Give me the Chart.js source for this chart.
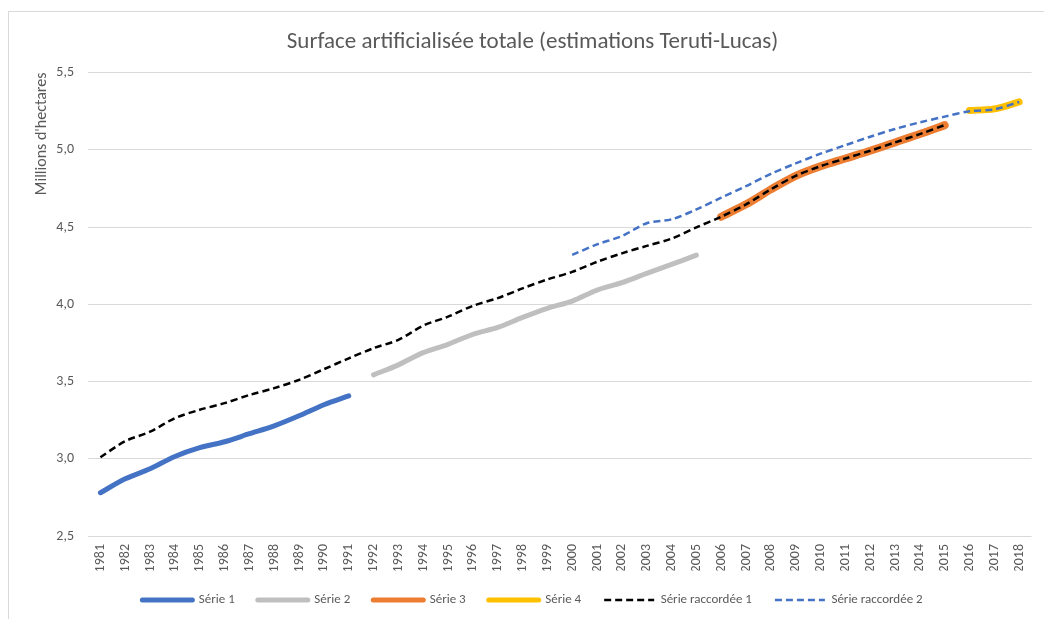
<!DOCTYPE html>
<html lang="fr">
<head>
<meta charset="utf-8">
<title>Surface artificialisée totale</title>
<script src="https://cdn.jsdelivr.net/npm/chart.js@4"></script>
<style>
  body { margin: 0; background: #fff; }
  canvas { display: block; }
</style>
</head>
<body>
<canvas id="grafico" width="1044" height="619"></canvas>
<script>
// années (axe des x)
const annees = [];
for (let a = 1981; a <= 2018; a++) annees.push(String(a));

// valeurs (millions d'hectares)
const serie1 = [2.78, 2.87, 2.935, 3.015, 3.072, 3.11, 3.162, 3.213, 3.278, 3.35, 3.407]; // 1981-1991
const serie2 = [3.543, 3.608, 3.687, 3.741, 3.806, 3.85, 3.915, 3.974, 4.021, 4.092, 4.14, 4.2, 4.258, 4.318]; // 1992-2005
const serie3 = [4.567, 4.647, 4.744, 4.832, 4.894, 4.944, 4.994, 5.048, 5.102, 5.16]; // 2006-2015
const serie4 = [5.255, 5.265, 5.31]; // 2016-2018
const raccordee1 = [3.01, 3.114, 3.175, 3.263, 3.317, 3.36, 3.413, 3.457, 3.511, 3.58, 3.65,
  3.716, 3.77, 3.862, 3.92, 3.99, 4.04, 4.103, 4.161, 4.21, 4.275, 4.33, 4.378, 4.425, 4.498,
  4.567, 4.647, 4.744, 4.832, 4.894, 4.944, 4.994, 5.048, 5.102, 5.16]; // 1981-2015
const raccordee2 = [4.32, 4.388, 4.442, 4.525, 4.55, 4.614, 4.69, 4.765, 4.845, 4.912, 4.975,
  5.03, 5.085, 5.135, 5.178, 5.215, 5.25, 5.262, 5.31]; // 2000-2018

const yMin = 2.5, yMax = 5.5, yPas = 0.5;

// place une série sur l'axe complet (null hors de sa période)
const placer = (debut, valeurs) =>
  annees.map(a => {
    const i = Number(a) - debut;
    return i >= 0 && i < valeurs.length ? valeurs[i] : null;
  });

const gris = "#595959";
const police = "Carlito, Lato, sans-serif";

const cadre = {
  id: "cadre",
  beforeDraw(chart) {
    const ctx = chart.ctx;
    ctx.save();
    ctx.fillStyle = "#fff";
    ctx.fillRect(0, 0, chart.width, chart.height);
    ctx.strokeStyle = "#d9d9d9";
    ctx.lineWidth = 1;
    ctx.strokeRect(8.5, 11.5, 1100, 700);
    ctx.restore();
  },
};

const ligne = (label, data, couleur, largeur, ordre, tirets) => ({
  label,
  data,
  borderColor: couleur,
  backgroundColor: couleur,
  borderWidth: largeur,
  borderDash: tirets || [],
  borderCapStyle: tirets ? "butt" : "round",
  borderJoinStyle: "round",
  pointRadius: 0,
  pointHoverRadius: 0,
  tension: 0.3,
  fill: false,
  spanGaps: false,
  order: ordre,
});

const ctx = document.getElementById("grafico").getContext("2d");

const chart = new Chart(ctx, {
  type: "line",
  data: {
    labels: annees,
    datasets: [
      ligne("Série 1", placer(1981, serie1), "#4472c4", 5, 1),
      ligne("Série 2", placer(1992, serie2), "#bfbfbf", 5, 1),
      ligne("Série 3", placer(2006, serie3), "#ed7d31", 8, 1),
      ligne("Série 4", placer(2016, serie4), "#ffc000", 7, 1),
      ligne("Série raccordée 1", placer(1981, raccordee1), "#000000", 2.5, 0, [7, 4]),
      ligne("Série raccordée 2", placer(2000, raccordee2), "#4472c4", 2.5, 0, [7, 4]),
    ],
  },
  options: {
    responsive: false,
    animation: false,
    events: [],
    layout: { padding: { top: 20, left: 22, right: 1, bottom: 2.5 } },
    plugins: {
      title: {
        display: true,
        text: "Surface artificialisée totale (estimations Teruti-Lucas)",
        color: gris,
        font: { family: police, size: 23, weight: "normal", lineHeight: 1.2 },
        padding: { top: 8, bottom: 17 },
      },
      legend: {
        display: true,
        position: "bottom",
        labels: {
          usePointStyle: true,
          pointStyle: "line",
          pointStyleWidth: 50,
          padding: 23,
          color: gris,
          font: { family: police, size: 13 },
          sort: (a, b) => a.datasetIndex - b.datasetIndex,
          generateLabels: (c) =>
            Chart.defaults.plugins.legend.labels.generateLabels(c).map(l => {
              const ds = c.data.datasets[l.datasetIndex];
              return {
                ...l,
                lineWidth: Math.min(ds.borderWidth, 5),
                lineDash: ds.borderDash,
                lineCap: ds.borderCapStyle,
                strokeStyle: ds.borderColor,
              };
            }),
        },
      },
      tooltip: { enabled: false },
    },
    scales: {
      x: {
        offset: true,
        grid: { display: false, drawTicks: false },
        border: { display: false },
        ticks: {
          color: gris,
          font: { family: police, size: 14 },
          minRotation: 90,
          maxRotation: 90,
          autoSkip: false,
          padding: 8,
        },
        afterFit: (s) => { s.height = 34.5; },
      },
      y: {
        min: yMin,
        max: yMax,
        grid: { color: "#d9d9d9", lineWidth: 1, drawTicks: false },
        border: { display: false },
        ticks: {
          stepSize: yPas,
          color: gris,
          font: { family: police, size: 14 },
          padding: 14,
          callback: (v) => v.toFixed(1).replace(".", ","),
        },
        title: {
          display: true,
          text: "Millions d'hectares",
          align: "end",
          color: gris,
          font: { family: police, size: 16, lineHeight: 1.2 },
          padding: { top: 10, bottom: 0 },
        },
        afterFit: (s) => { s.width = 66; },
      },
    },
  },
  plugins: [cadre],
});
</script>
</body>
</html>
